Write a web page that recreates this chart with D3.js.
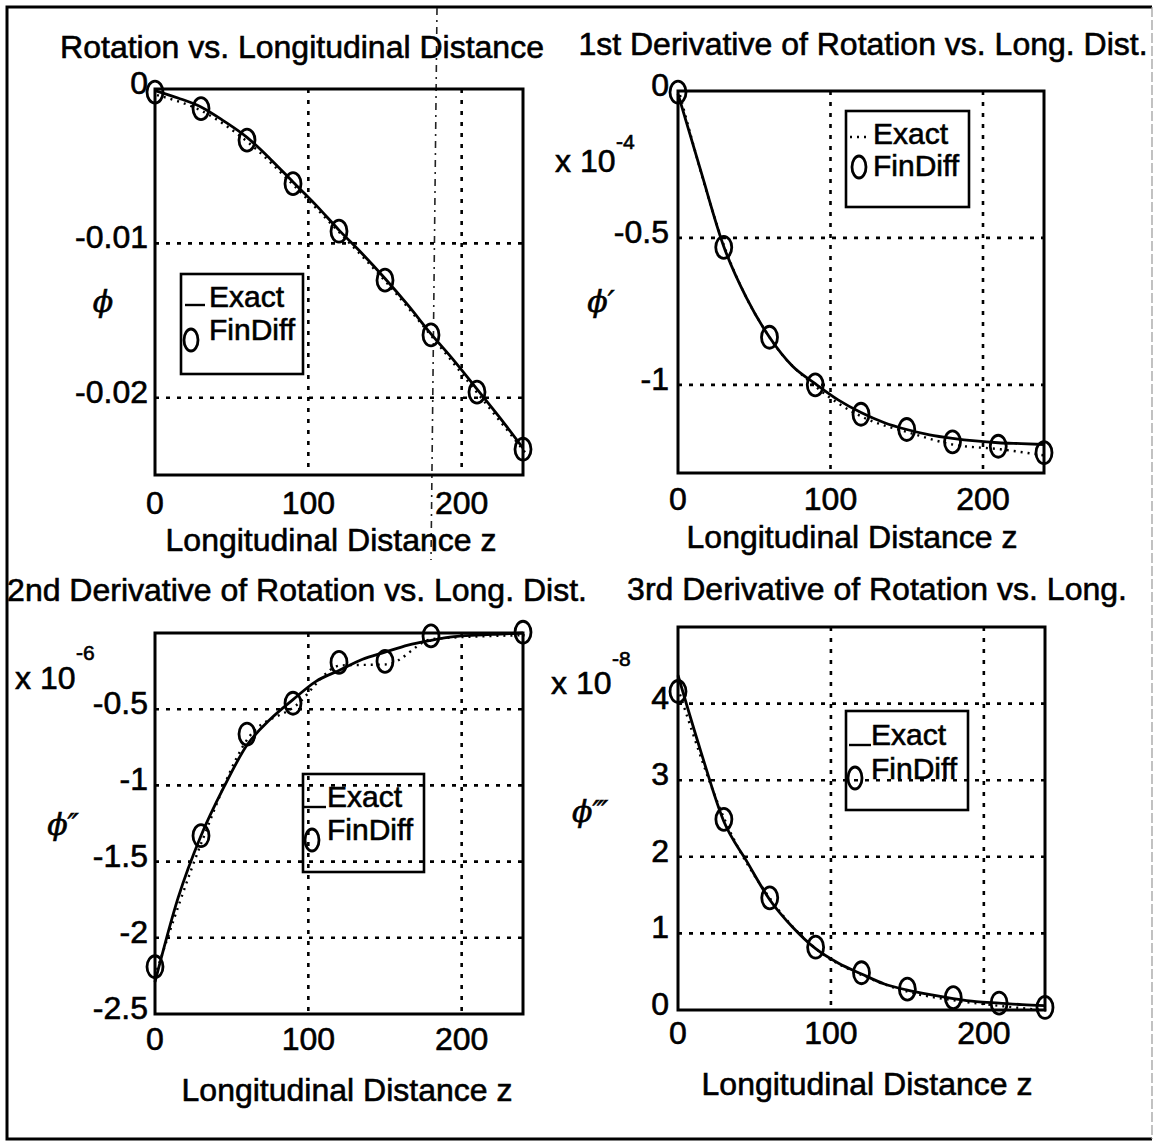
<!DOCTYPE html>
<html lang="en">
<head>
  <meta charset="UTF-8">
  <title>Rotation and derivatives vs. longitudinal distance</title>
  <script src="https://d3js.org/d3.v7.min.js"></script>
  <style>
    body { margin: 0; background: #fff; }
    svg { display: block; }
    text { font-family: "Liberation Sans", Arial, sans-serif; fill: #000; stroke: #000; stroke-width: 0.6px; }
  </style>
</head>
<body>
<svg id="fig" width="1157" height="1142"></svg>
<script>
// ---- data ----
const zExact = [0, 15, 30, 45, 60, 75, 90, 105, 120, 135, 150, 165, 180, 195, 210, 225, 240];
const zFinDiff = [0, 30, 60, 90, 120, 150, 180, 210, 240];
const zFinDiff2 = [0, 30, 60, 90, 120, 150, 180, 240]; // 210 not visible in the 2nd derivative plot

const phiExact = [-0.0001, -0.00058, -0.00116, -0.00208, -0.00313, -0.00451, -0.00602, -0.00752, -0.00914,
  -0.01065, -0.01227, -0.014, -0.01586, -0.01759, -0.01944, -0.0213, -0.02326];
const phiFinDiff = [-0.0002, -0.00127, -0.00331, -0.00613, -0.00921, -0.01238, -0.01593, -0.01963, -0.02333];

// x 10^-4
const dphiExact = [-0.01, -0.273, -0.529, -0.705, -0.838, -0.936, -0.996, -1.051, -1.094,
  -1.128, -1.152, -1.17, -1.182, -1.191, -1.197, -1.2, -1.203];
const dphiFinDiff = [-0.004, -0.532, -0.838, -1.0, -1.1, -1.152, -1.194, -1.209, -1.231];

// x 10^-6
const d2phiExact = [-2.29, -1.74, -1.33, -1.01, -0.735, -0.568, -0.437, -0.317, -0.246,
  -0.174, -0.126, -0.079, -0.048, -0.024, -0.014, -0.007, 0];
const d2phiFinDiff = [-2.19, -1.33, -0.663, -0.461, -0.193, -0.186, -0.019, 0.005];

// x 10^-8
const d3phiExact = [4.37, 3.37, 2.46, 1.94, 1.44, 1.08, 0.8, 0.61, 0.47,
  0.34, 0.26, 0.2, 0.15, 0.11, 0.09, 0.07, 0.057];
const d3phiFinDiff = [4.158, 2.489, 1.464, 0.82, 0.486, 0.272, 0.162, 0.091, 0.033];

const xTicks = [0, 100, 200];
const yTicks1 = [0, -0.01, -0.02];
const yTicks2 = [0, -0.5, -1];
const yTicks3 = [-0.5, -1, -1.5, -2, -2.5];
const yTicks4 = [0, 1, 2, 3, 4];
const yGrid1 = [-0.01, -0.02];
const yGrid2 = [-0.5, -1];
const yGrid3 = [-0.5, -1, -1.5, -2];
const yGrid4 = [1, 2, 3, 4];

const titles = [
  "Rotation vs. Longitudinal Distance",
  "1st Derivative of Rotation vs. Long. Dist.",
  "2nd Derivative of Rotation vs. Long. Dist.",
  "3rd Derivative of Rotation vs. Long."
];
const xLabel = "Longitudinal Distance z";
const yLabels = ["\u03D5", "\u03D5\u2032", "\u03D5\u2033", "\u03D5\u2034"];
const exponents = [null, "-4", "-6", "-8"];

// ---- layout ----
const svg = d3.select("#fig");
const FS = 32;
const hyphen = f => d => f(d).replace("\u2212", "-");

svg.append("rect").attr("width", 1157).attr("height", 1142).attr("fill", "#fff");

// outer frame (right edge is faint in the scan)
svg.append("path")
  .attr("d", "M1152,7 L7,7 L7,1139 L1152,1139")
  .attr("fill", "none").attr("stroke", "#000").attr("stroke-width", 3);
svg.append("line")
  .attr("x1", 1152).attr("x2", 1152).attr("y1", 7).attr("y2", 1139)
  .attr("stroke", "#999").attr("stroke-width", 1.2).attr("stroke-dasharray", "10 3");

// stray scan mark through the first plot
svg.append("line")
  .attr("x1", 437).attr("y1", 8).attr("x2", 431).attr("y2", 560)
  .attr("stroke", "#222").attr("stroke-width", 1.6).attr("stroke-dasharray", "7 5 2 5");

const panels = [
  {
    box: {l: 155, r: 523, t: 89, b: 475}, yDomain: [-0.025, 0],
    exact: phiExact, zfd: zFinDiff, fd: phiFinDiff,
    yTicks: yTicks1, yGrid: yGrid1, tickFmt: hyphen(d3.format(".2~f")),
    title: {x: 302, y: 58}, xTickY: 514, xLab: {x: 331, y: 551},
    yLab: {x: 103, y: 312}, tickEnd: 148,
    leg: {x: 181, y: 274, w: 122, h: 100, tx: 209, ty1: 307, ty2: 340,
          lineY: 305, lx1: 185, lx2: 205, dotted: false, cx: 191, cy: 340}
  },
  {
    box: {l: 678, r: 1044, t: 91, b: 473}, yDomain: [-1.3, 0],
    exact: dphiExact, zfd: zFinDiff, fd: dphiFinDiff,
    yTicks: yTicks2, yGrid: yGrid2, tickFmt: hyphen(d3.format("~g")),
    title: {x: 863, y: 55}, xTickY: 510, xLab: {x: 852, y: 548},
    yLab: {x: 601, y: 312}, tickEnd: 669,
    mult: {x: 555, y: 172, ex: 616, ey: 149},
    leg: {x: 846, y: 111, w: 123, h: 96, tx: 873, ty1: 144, ty2: 176,
          lineY: 137, lx1: 850, lx2: 871, dotted: true, cx: 859, cy: 167}
  },
  {
    box: {l: 155, r: 523, t: 633, b: 1014}, yDomain: [-2.5, 0],
    exact: d2phiExact, zfd: zFinDiff2, fd: d2phiFinDiff,
    yTicks: yTicks3, yGrid: yGrid3, tickFmt: hyphen(d3.format("~g")),
    title: {x: 297, y: 601}, xTickY: 1050, xLab: {x: 347, y: 1101},
    yLab: {x: 63, y: 835}, tickEnd: 148,
    mult: {x: 15, y: 689, ex: 76, ey: 660},
    leg: {x: 303, y: 774, w: 121, h: 98, tx: 327, ty1: 807, ty2: 840,
          lineY: 807, lx1: 304, lx2: 326, dotted: false, cx: 312, cy: 840}
  },
  {
    box: {l: 678, r: 1045, t: 627, b: 1010}, yDomain: [0, 5],
    exact: d3phiExact, zfd: zFinDiff, fd: d3phiFinDiff,
    yTicks: yTicks4, yGrid: yGrid4, tickFmt: hyphen(d3.format("~g")),
    title: {x: 877, y: 600}, xTickY: 1044, xLab: {x: 867, y: 1095},
    yLab: {x: 590, y: 822}, tickEnd: 669,
    mult: {x: 551, y: 694, ex: 612, ey: 666},
    leg: {x: 846, y: 711, w: 122, h: 99, tx: 871, ty1: 745, ty2: 779,
          lineY: 745, lx1: 849, lx2: 871, dotted: false, cx: 855, cy: 778}
  }
];

panels.forEach((p, i) => {
  const g = svg.append("g");
  const x = d3.scaleLinear().domain([0, 240]).range([p.box.l, p.box.r]);
  const y = d3.scaleLinear().domain(p.yDomain).range([p.box.b, p.box.t]);

  // dotted grid
  const grid = g.append("g")
    .attr("stroke", "#000").attr("stroke-width", 2.6).attr("stroke-dasharray", "4 7");
  grid.selectAll("line.v").data(xTicks.filter(d => d > 0)).join("line")
    .attr("x1", d => x(d)).attr("x2", d => x(d))
    .attr("y1", p.box.t).attr("y2", p.box.b);
  grid.selectAll("line.h").data(p.yGrid).join("line")
    .attr("x1", p.box.l).attr("x2", p.box.r)
    .attr("y1", d => y(d)).attr("y2", d => y(d));

  // box
  g.append("rect")
    .attr("x", p.box.l).attr("y", p.box.t)
    .attr("width", p.box.r - p.box.l).attr("height", p.box.b - p.box.t)
    .attr("fill", "none").attr("stroke", "#000").attr("stroke-width", 3);

  // exact (solid)
  const exactPts = zExact.map((z, k) => [z, p.exact[k]]);
  g.append("path")
    .attr("d", d3.line().x(d => x(d[0])).y(d => y(d[1])).curve(d3.curveMonotoneX)(exactPts))
    .attr("fill", "none").attr("stroke", "#000").attr("stroke-width", 2.8);

  // finite difference: dotted trace + circles
  const fdPts = p.zfd.map((z, k) => [z, p.fd[k]]);
  g.append("path")
    .attr("d", d3.line().x(d => x(d[0])).y(d => y(d[1])).curve(d3.curveMonotoneX)(fdPts))
    .attr("fill", "none").attr("stroke", "#000").attr("stroke-width", 2.4)
    .attr("stroke-dasharray", "2 5").attr("transform", "translate(2,3)");
  g.selectAll("ellipse").data(fdPts).join("ellipse")
    .attr("cx", d => x(d[0])).attr("cy", d => y(d[1]))
    .attr("rx", 8).attr("ry", 11)
    .attr("fill", "none").attr("stroke", "#000").attr("stroke-width", 2.8);

  // tick labels
  g.selectAll("text.xt").data(xTicks).join("text")
    .attr("x", d => x(d)).attr("y", p.xTickY)
    .attr("text-anchor", "middle").attr("font-size", FS)
    .text(d => d);
  g.selectAll("text.yt").data(p.yTicks).join("text")
    .attr("x", p.tickEnd).attr("y", d => y(d) + 5)
    .attr("text-anchor", "end").attr("font-size", FS)
    .text(d => p.tickFmt(d));

  // titles & labels
  g.append("text").attr("x", p.title.x).attr("y", p.title.y)
    .attr("text-anchor", "middle").attr("font-size", FS).text(titles[i]);
  g.append("text").attr("x", p.xLab.x).attr("y", p.xLab.y)
    .attr("text-anchor", "middle").attr("font-size", FS).text(xLabel);
  g.append("text").attr("x", p.yLab.x).attr("y", p.yLab.y)
    .attr("text-anchor", "middle").attr("font-size", 30)
    .attr("font-style", "italic").style("font-family", "'DejaVu Serif', serif")
    .text(yLabels[i]);

  if (p.mult) {
    g.append("text").attr("x", p.mult.x).attr("y", p.mult.y)
      .attr("font-size", FS).text("x 10");
    g.append("text").attr("x", p.mult.ex).attr("y", p.mult.ey)
      .attr("font-size", 21).text(exponents[i]);
  }

  // legend (transparent, as in the scan)
  const L = p.leg;
  g.append("rect").attr("x", L.x).attr("y", L.y).attr("width", L.w).attr("height", L.h)
    .attr("fill", "none").attr("stroke", "#000").attr("stroke-width", 2.6);
  g.append("line").attr("x1", L.lx1).attr("x2", L.lx2).attr("y1", L.lineY).attr("y2", L.lineY)
    .attr("stroke", "#000").attr("stroke-width", 2.4)
    .attr("stroke-dasharray", L.dotted ? "2 5" : null);
  g.append("ellipse").attr("cx", L.cx).attr("cy", L.cy).attr("rx", 7).attr("ry", 11)
    .attr("fill", "none").attr("stroke", "#000").attr("stroke-width", 2.8);
  g.append("text").attr("x", L.tx).attr("y", L.ty1).attr("font-size", 30).text("Exact");
  g.append("text").attr("x", L.tx).attr("y", L.ty2).attr("font-size", 30).text("FinDiff");
});
</script>
</body>
</html>
